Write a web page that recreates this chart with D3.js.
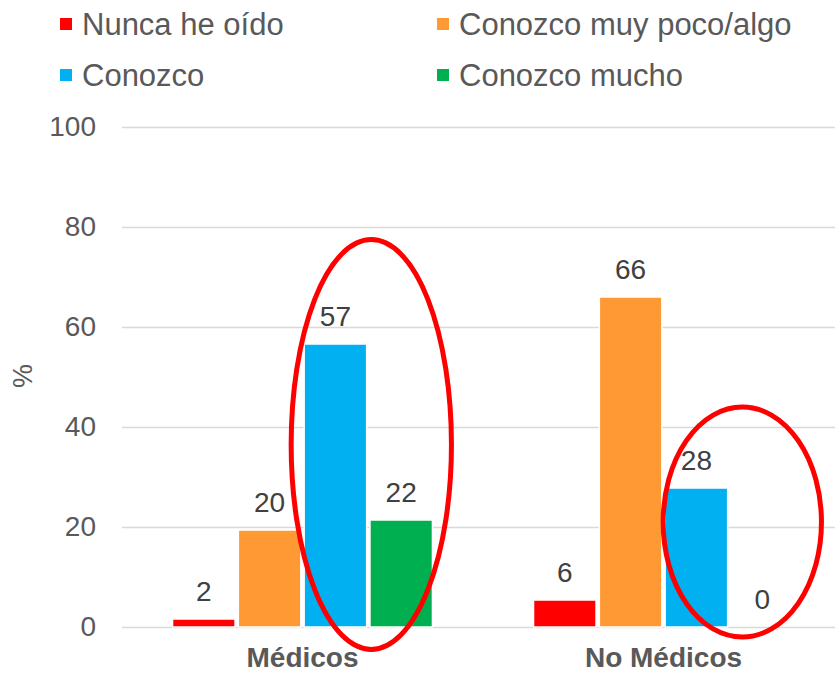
<!DOCTYPE html>
<html>
<head>
<meta charset="utf-8">
<script src="https://cdn.jsdelivr.net/npm/d3@7"></script>
<style>
  body { margin: 0; background: #fff; }
  svg text { font-family: "Liberation Sans", Arial, sans-serif; }
</style>
</head>
<body>
<svg id="chart" width="835" height="673"></svg>
<script>
// data
const groups = ["Médicos", "No Médicos"];
const series = ["Nunca he oído", "Conozco muy poco/algo", "Conozco", "Conozco mucho"];
const colors = ["#FF0000", "#FF9933", "#00B0F0", "#00B050"];
const medicos = [1.6, 19.4, 56.6, 21.4];
const noMedicos = [5.4, 66.0, 27.8, 0];
const medicosLabels = ["2", "20", "57", "22"];
const noMedicosLabels = ["6", "66", "28", "0"];
const yTicks = [0, 20, 40, 60, 80, 100];

const values = [medicos, noMedicos];
const labels = [medicosLabels, noMedicosLabels];

const svg = d3.select("#chart");

const y = d3.scaleLinear().domain([0, 100]).range([627, 127]);
const x0 = d3.scaleBand().domain(groups).range([122, 844])
  .paddingInner(0.28).paddingOuter(0.14);
const x1 = d3.scaleBand().domain(series).range([0, x0.bandwidth()])
  .paddingInner(0.05).paddingOuter(0);
const color = d3.scaleOrdinal().domain(series).range(colors);

// gridlines + y tick labels
const yAxis = d3.axisLeft(y).tickValues(yTicks).tickSize(-(835 - 122)).tickPadding(26);
const ga = svg.append("g").attr("transform", "translate(122,0)").call(yAxis);
ga.select(".domain").remove();
ga.selectAll(".tick line").attr("stroke", "#D9D9D9").attr("stroke-width", 1.5);
ga.selectAll(".tick text")
  .attr("fill", "#595959")
  .style("font-size", "28px");

// y title
svg.append("text")
  .attr("transform", "translate(32,376) rotate(-90)")
  .attr("text-anchor", "middle")
  .attr("fill", "#595959")
  .style("font-size", "27px")
  .text("%");

// bars
const rows = groups.map((g, gi) => series.map((s, si) => ({
  group: g, series: s, value: values[gi][si], label: labels[gi][si]
})));

const gg = svg.selectAll(".grp").data(rows).join("g")
  .attr("class", "grp")
  .attr("transform", (d, i) => `translate(${x0(groups[i])},0)`);

gg.selectAll("rect").data(d => d).join("rect")
  .attr("x", d => x1(d.series))
  .attr("width", x1.bandwidth())
  .attr("y", d => y(d.value))
  .attr("height", d => y(0) - y(d.value))
  .attr("fill", d => color(d.series))
  .attr("stroke", "#fff")
  .attr("stroke-width", 1.5);

gg.selectAll("text.val").data(d => d).join("text")
  .attr("class", "val")
  .attr("x", d => x1(d.series) + x1.bandwidth() / 2)
  .attr("y", d => y(d.value) - 18)
  .attr("text-anchor", "middle")
  .attr("fill", "#404040")
  .style("font-size", "28px")
  .text(d => d.label);

// x labels
svg.selectAll(".xlab").data(groups).join("text")
  .attr("class", "xlab")
  .attr("x", d => x0(d) + x0.bandwidth() / 2)
  .attr("y", 667)
  .attr("text-anchor", "middle")
  .attr("fill", "#595959")
  .style("font-size", "28px")
  .style("font-weight", "bold")
  .text(d => d);

// highlight ellipses
function ellipse(group, from, to, top, bottom, dx, extra) {
  const a = x0(group) + x1(from);
  const b = x0(group) + x1(to) + x1.bandwidth();
  svg.append("ellipse")
    .attr("cx", (a + b) / 2 + dx)
    .attr("cy", (y(top) + y(bottom)) / 2)
    .attr("rx", (b - a) / 2 + extra)
    .attr("ry", (y(bottom) - y(top)) / 2)
    .attr("fill", "none")
    .attr("stroke", "#FF0000")
    .attr("stroke-width", 5);
}
ellipse("Médicos", "Conozco", "Conozco mucho", 77.5, -4.5, 3, 16);
ellipse("No Médicos", "Conozco", "Conozco mucho", 44, -2, 13, 15);

// legend
const legend = svg.selectAll(".leg").data(series).join("g")
  .attr("class", "leg")
  .attr("transform", (d, i) => `translate(${i % 2 ? 437 : 60},${i < 2 ? 24 : 75})`);
legend.append("rect")
  .attr("x", 0).attr("y", -6).attr("width", 12).attr("height", 12)
  .attr("fill", d => color(d));
legend.append("text")
  .attr("x", 22).attr("y", 0).attr("dy", "0.35em")
  .attr("fill", "#595959")
  .style("font-size", "31px")
  .text(d => d);
</script>
</body>
</html>
